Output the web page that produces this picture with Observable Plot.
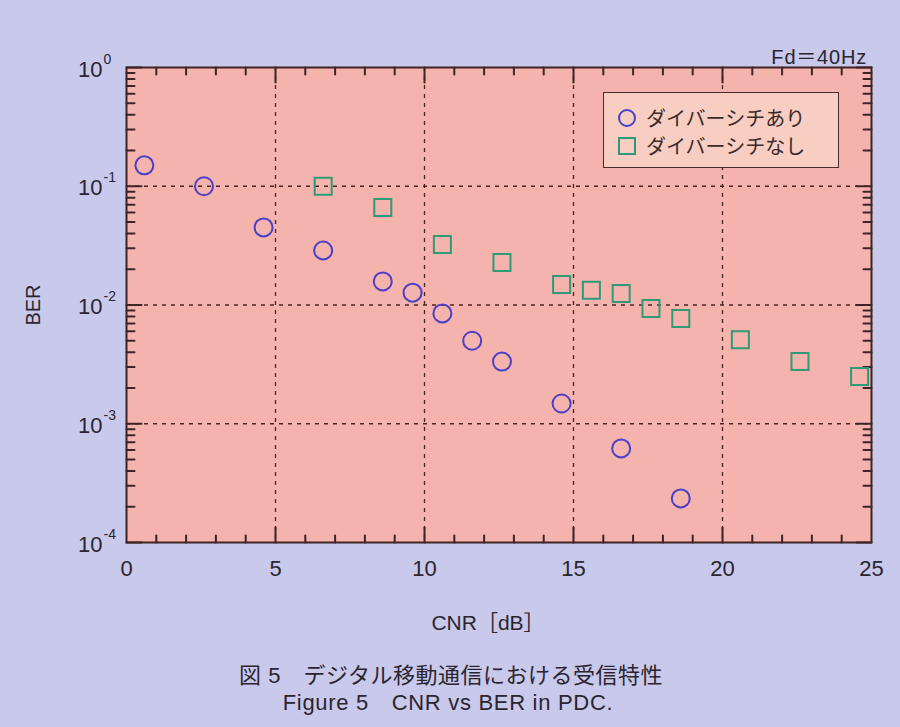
<!DOCTYPE html>
<html>
<head>
<meta charset="utf-8">
<script src="https://cdn.jsdelivr.net/npm/d3@7"></script>
<script src="https://cdn.jsdelivr.net/npm/@observablehq/plot@0.6"></script>
<style>
  html, body { margin: 0; padding: 0; background: #c9c9ec; }
  #wrap { position: relative; width: 900px; height: 727px; overflow: hidden;
          font-family: "Liberation Sans", Arial, "Noto Sans CJK JP", sans-serif; color: #2a2530; }
  .abs { position: absolute; white-space: nowrap; }
  #legend { position: absolute; left: 603px; top: 92px; width: 236px; height: 76px;
            background: #f8cdc2; border: 1.5px solid #4a2a2a; box-sizing: border-box;
            font-family: "Noto Sans CJK JP", sans-serif; font-size: 20px; color: #3a2a2a; }
  .lrow { position: absolute; left: 13px; display: flex; align-items: center; }
  .lrow span { margin-left: 9px; }
</style>
</head>
<body>
<div id="wrap">
  <div id="chart"></div>
  <div class="abs" id="fd" style="right:33px; top:41px; font-size:20px; letter-spacing:0.8px; font-family:'Liberation Sans', Arial, 'Noto Sans CJK JP';">Fd＝40Hz</div>
  <div id="legend"></div>
  <div class="abs" style="left:33px; top:305px; font-size:20px; transform: translate(-50%,-50%) rotate(-90deg);">BER</div>
  <div class="abs" style="left:488px; top:621px; font-size:21px; transform: translate(-50%,-50%); font-family:'Liberation Sans', Arial, 'Noto Sans CJK JP';">CNR［dB］</div>
  <div class="abs" style="left:451px; top:673px; font-size:22px; letter-spacing:0.5px; transform: translate(-50%,-50%); font-family:'Liberation Sans', Arial, 'Noto Sans CJK JP';">図 5　デジタル移動通信における受信特性</div>
  <div class="abs" style="left:448px; top:700px; font-size:22px; letter-spacing:0.7px; transform: translate(-50%,-50%); font-family:'Liberation Sans', Arial, 'Noto Sans CJK JP';">Figure 5　CNR vs BER in PDC.</div>
</div>
<script>
// ---- data ----
const seriesNames = ["ダイバーシチあり", "ダイバーシチなし"];
const cnrWith = [0.6, 2.6, 4.6, 6.6, 8.6, 9.6, 10.6, 11.6, 12.6, 14.6, 16.6, 18.6];
const berWith = [0.15, 0.1, 0.045, 0.0288, 0.0158, 0.0127, 0.0085, 0.005, 0.00334, 0.00148, 0.00062, 0.000235];
const cnrWithout = [6.6, 8.6, 10.6, 12.6, 14.6, 15.6, 16.6, 17.6, 18.6, 20.6, 22.6, 24.6];
const berWithout = [0.1, 0.0662, 0.0323, 0.0228, 0.0149, 0.0133, 0.0125, 0.00935, 0.0077, 0.0051, 0.00334, 0.0025];
const xTicks = [0, 5, 10, 15, 20, 25];
const xGrid = [5, 10, 15, 20];
const xMinor = [1,2,3,4,6,7,8,9,11,12,13,14,16,17,18,19,21,22,23,24];
const yExponents = [0, -1, -2, -3, -4];
const yGrid = [0.1, 0.01, 0.001];

// ---- derived tables ----
const withData = cnrWith.map((x, i) => ({x, y: berWith[i]}));
const withoutData = cnrWithout.map((x, i) => ({x, y: berWithout[i]}));
const yMajor = yExponents.map(e => ({v: Math.pow(10, e), e}));
const yMinor = [];
for (const e of [-4, -3, -2, -1]) for (let m = 2; m <= 9; m++) yMinor.push(m * Math.pow(10, e));

const ink = "#3e2424";
const colWith = "#4a3fc6";
const colWithout = "#2f9a74";
const tickShape = { draw(context, l) { context.moveTo(0, 0); context.lineTo(0, -l); } };
const font = "Liberation Sans, Arial, sans-serif";

function ticksX(data, len) {
  return [
    Plot.vector(data, {x: d => d, frameAnchor: "bottom", length: len, rotate: 0, anchor: "start", shape: tickShape, stroke: ink, strokeWidth: 2}),
    Plot.vector(data, {x: d => d, frameAnchor: "top", length: len, rotate: 180, anchor: "start", shape: tickShape, stroke: ink, strokeWidth: 2})
  ];
}
function ticksY(data, len) {
  return [
    Plot.vector(data, {y: d => d, frameAnchor: "left", length: len, rotate: 90, anchor: "start", shape: tickShape, stroke: ink, strokeWidth: 2}),
    Plot.vector(data, {y: d => d, frameAnchor: "right", length: len, rotate: -90, anchor: "start", shape: tickShape, stroke: ink, strokeWidth: 2})
  ];
}

const chart = Plot.plot({
  width: 900,
  height: 640,
  marginLeft: 126,
  marginRight: 29,
  marginTop: 67,
  marginBottom: 98,
  style: {background: "transparent", fontFamily: font, color: "#2a2530", overflow: "visible"},
  x: {domain: [0, 25], axis: null},
  y: {type: "log", domain: [1e-4, 1], axis: null},
  marks: [
    Plot.frame({fill: "#f5b3ae", stroke: null}),
    Plot.ruleX(xGrid, {stroke: "#4a2424", strokeWidth: 1.3, strokeDasharray: "4,5"}),
    Plot.ruleY(yGrid, {stroke: "#4a2424", strokeWidth: 1.3, strokeDasharray: "4,5"}),
    ...ticksX(xMinor, 7),
    ...ticksX(xGrid, 15),
    ...ticksY(yMinor, 8),
    ...ticksY(yMajor.map(d => d.v), 15),
    Plot.frame({stroke: ink, strokeWidth: 2}),
    Plot.text(xTicks, {x: d => d, frameAnchor: "bottom", dy: 33, text: d => String(d), fontSize: 22, fill: "#2a2530", fontFamily: font}),
    Plot.text(yMajor, {y: "v", frameAnchor: "left", dx: -24, dy: 2, textAnchor: "end", text: () => "10", fontSize: 22, fill: "#2a2530", fontFamily: font}),
    Plot.text(yMajor, {y: "v", frameAnchor: "left", dx: -23, dy: -4, textAnchor: "start", lineAnchor: "bottom", text: d => d.e === 0 ? "0" : "-" + Math.abs(d.e), fontSize: 14, fill: "#2a2530", fontFamily: font}),
    Plot.dot(withData, {x: "x", y: "y", r: 9, symbol: "circle", stroke: colWith, strokeWidth: 2, fill: "none"}),
    Plot.dot(withoutData, {x: "x", y: "y", r: 9.6, symbol: "square", stroke: colWithout, strokeWidth: 2, fill: "none"})
  ]
});
document.getElementById("chart").appendChild(chart);

// legend (HTML)
const legend = document.getElementById("legend");
const symbols = [
  `<svg width="20" height="20"><circle cx="10" cy="10" r="8" fill="none" stroke="${colWith}" stroke-width="2"/></svg>`,
  `<svg width="20" height="20"><rect x="2" y="2" width="16" height="16" fill="none" stroke="${colWithout}" stroke-width="2"/></svg>`
];
seriesNames.forEach((name, i) => {
  const row = document.createElement("div");
  row.className = "lrow";
  row.style.top = (i === 0 ? 10 : 38) + "px";
  row.innerHTML = symbols[i] + `<span>${name}</span>`;
  legend.appendChild(row);
});
</script>
</body>
</html>
